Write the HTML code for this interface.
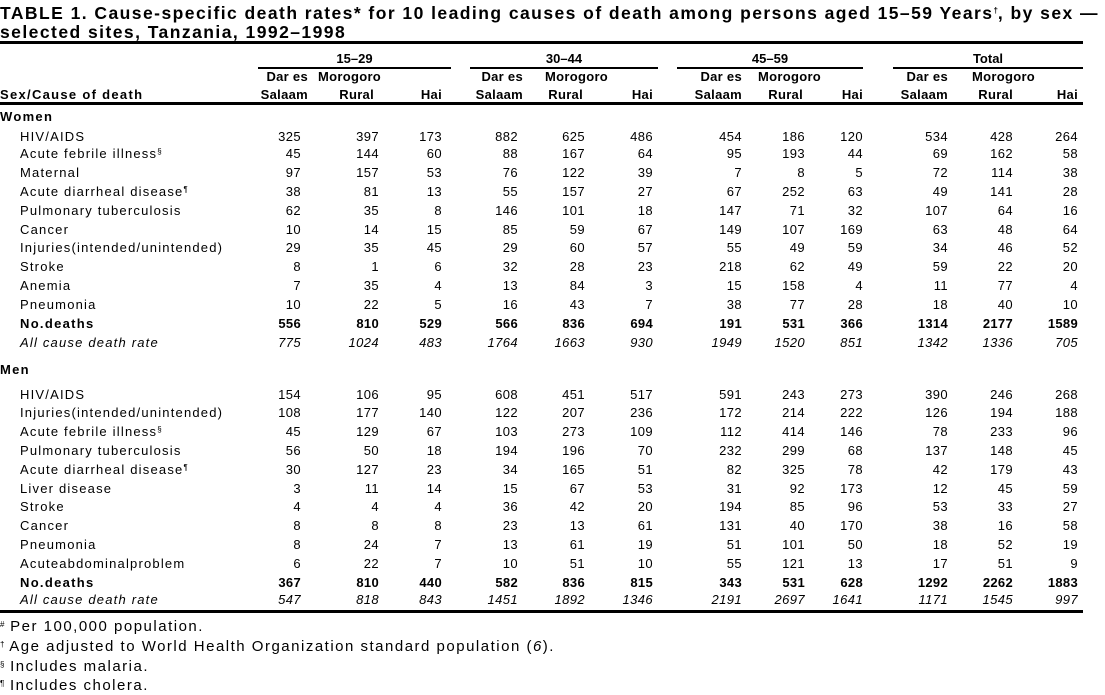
<!DOCTYPE html>
<html><head><meta charset="utf-8"><style>
body{margin:0;width:1105px;height:690px;background:#fff;position:relative;overflow:hidden;font-family:"Liberation Sans",Arial,sans-serif;color:#000}
.t{position:absolute;left:0;font-weight:bold;font-size:17.5px;line-height:18px;letter-spacing:1.45px;white-space:nowrap}
.rule{position:absolute;background:#000}
.r{position:absolute;left:0;width:1105px;height:16px;line-height:16px;font-size:13px;white-space:nowrap;letter-spacing:0.4px}
.r .l{letter-spacing:1.2px}
.r.b .l{letter-spacing:1.3px}
.r.b span{letter-spacing:0.3px}
.r span{position:absolute;width:70px;text-align:right;top:0}
.r .l{left:20px;width:auto;text-align:left}
.b{font-weight:bold}.i{font-style:italic}
.a{left:231px}.bb{left:309px}.c{left:372px}.d{left:448px}.e{left:515px}.f{left:583px}.g{left:672px}.h{left:735px}.k{left:793px}.m{left:878px}.n{left:943px}.o{left:1008px}
.h1{position:absolute;font-size:13px;font-weight:bold;white-space:nowrap;line-height:16px}
.fn{position:absolute;left:0;font-size:15px;white-space:nowrap;line-height:18px;letter-spacing:1.5px}
sup{font-size:8px;vertical-align:top;position:relative;top:-2px;letter-spacing:0}
.hd span{text-align:right}
</style></head><body>
<div class="t" style="top:4px">TABLE 1. Cause-specific death rates* for 10 leading causes of death among persons aged 15–59 Years<sup>†</sup>, by sex —</div>
<div class="t" style="top:23px">selected sites, Tanzania, 1992–1998</div>
<div class="rule" style="left:0;top:41px;width:1083px;height:3px"></div>
<div class="h1" style="left:258px;width:193px;text-align:center;top:51px">15–29</div>
<div class="h1" style="left:470px;width:188px;text-align:center;top:51px">30–44</div>
<div class="h1" style="left:677px;width:186px;text-align:center;top:51px">45–59</div>
<div class="h1" style="left:893px;width:190px;text-align:center;top:51px">Total</div>
<div class="rule" style="left:258px;top:67px;width:193px;height:2px"></div>
<div class="rule" style="left:470px;top:67px;width:188px;height:2px"></div>
<div class="rule" style="left:677px;top:67px;width:186px;height:2px"></div>
<div class="rule" style="left:893px;top:67px;width:190px;height:2px"></div>
<div class="r b hd" style="top:69px"><span style="left:238px">Dar es</span><span style="left:318px;text-align:left">Morogoro</span><span style="left:453px">Dar es</span><span style="left:545px;text-align:left">Morogoro</span><span style="left:672px">Dar es</span><span style="left:758px;text-align:left">Morogoro</span><span style="left:878px">Dar es</span><span style="left:972px;text-align:left">Morogoro</span></div>
<div class="r b hd" style="top:87px"><span class="l" style="left:0">Sex/Cause of death</span><span style="left:238px">Salaam</span><span style="left:304px">Rural</span><span style="left:372px">Hai</span><span style="left:453px">Salaam</span><span style="left:513px">Rural</span><span style="left:583px">Hai</span><span style="left:672px">Salaam</span><span style="left:733px">Rural</span><span style="left:793px">Hai</span><span style="left:878px">Salaam</span><span style="left:943px">Rural</span><span style="left:1008px">Hai</span></div>
<div class="rule" style="left:0;top:102px;width:1083px;height:3px"></div>

<div class="r b" style="top:109px"><span class="l" style="left:0">Women</span></div>
<div class="r" style="top:129px"><span class="l">HIV/AIDS</span><span class="a">325</span><span class="bb">397</span><span class="c">173</span><span class="d">882</span><span class="e">625</span><span class="f">486</span><span class="g">454</span><span class="h">186</span><span class="k">120</span><span class="m">534</span><span class="n">428</span><span class="o">264</span></div>
<div class="r" style="top:146px"><span class="l">Acute febrile illness<sup>§</sup></span><span class="a">45</span><span class="bb">144</span><span class="c">60</span><span class="d">88</span><span class="e">167</span><span class="f">64</span><span class="g">95</span><span class="h">193</span><span class="k">44</span><span class="m">69</span><span class="n">162</span><span class="o">58</span></div>
<div class="r" style="top:165px"><span class="l">Maternal</span><span class="a">97</span><span class="bb">157</span><span class="c">53</span><span class="d">76</span><span class="e">122</span><span class="f">39</span><span class="g">7</span><span class="h">8</span><span class="k">5</span><span class="m">72</span><span class="n">114</span><span class="o">38</span></div>
<div class="r" style="top:184px"><span class="l">Acute diarrheal disease<sup>¶</sup></span><span class="a">38</span><span class="bb">81</span><span class="c">13</span><span class="d">55</span><span class="e">157</span><span class="f">27</span><span class="g">67</span><span class="h">252</span><span class="k">63</span><span class="m">49</span><span class="n">141</span><span class="o">28</span></div>
<div class="r" style="top:203px"><span class="l">Pulmonary tuberculosis</span><span class="a">62</span><span class="bb">35</span><span class="c">8</span><span class="d">146</span><span class="e">101</span><span class="f">18</span><span class="g">147</span><span class="h">71</span><span class="k">32</span><span class="m">107</span><span class="n">64</span><span class="o">16</span></div>
<div class="r" style="top:222px"><span class="l">Cancer</span><span class="a">10</span><span class="bb">14</span><span class="c">15</span><span class="d">85</span><span class="e">59</span><span class="f">67</span><span class="g">149</span><span class="h">107</span><span class="k">169</span><span class="m">63</span><span class="n">48</span><span class="o">64</span></div>
<div class="r" style="top:240px"><span class="l">Injuries(intended/unintended)</span><span class="a">29</span><span class="bb">35</span><span class="c">45</span><span class="d">29</span><span class="e">60</span><span class="f">57</span><span class="g">55</span><span class="h">49</span><span class="k">59</span><span class="m">34</span><span class="n">46</span><span class="o">52</span></div>
<div class="r" style="top:259px"><span class="l">Stroke</span><span class="a">8</span><span class="bb">1</span><span class="c">6</span><span class="d">32</span><span class="e">28</span><span class="f">23</span><span class="g">218</span><span class="h">62</span><span class="k">49</span><span class="m">59</span><span class="n">22</span><span class="o">20</span></div>
<div class="r" style="top:278px"><span class="l">Anemia</span><span class="a">7</span><span class="bb">35</span><span class="c">4</span><span class="d">13</span><span class="e">84</span><span class="f">3</span><span class="g">15</span><span class="h">158</span><span class="k">4</span><span class="m">11</span><span class="n">77</span><span class="o">4</span></div>
<div class="r" style="top:297px"><span class="l">Pneumonia</span><span class="a">10</span><span class="bb">22</span><span class="c">5</span><span class="d">16</span><span class="e">43</span><span class="f">7</span><span class="g">38</span><span class="h">77</span><span class="k">28</span><span class="m">18</span><span class="n">40</span><span class="o">10</span></div>
<div class="r b" style="top:316px"><span class="l">No.deaths</span><span class="a">556</span><span class="bb">810</span><span class="c">529</span><span class="d">566</span><span class="e">836</span><span class="f">694</span><span class="g">191</span><span class="h">531</span><span class="k">366</span><span class="m">1314</span><span class="n">2177</span><span class="o">1589</span></div>
<div class="r i" style="top:335px"><span class="l">All cause death rate</span><span class="a">775</span><span class="bb">1024</span><span class="c">483</span><span class="d">1764</span><span class="e">1663</span><span class="f">930</span><span class="g">1949</span><span class="h">1520</span><span class="k">851</span><span class="m">1342</span><span class="n">1336</span><span class="o">705</span></div>

<div class="r b" style="top:362px"><span class="l" style="left:0">Men</span></div>
<div class="r" style="top:387px"><span class="l">HIV/AIDS</span><span class="a">154</span><span class="bb">106</span><span class="c">95</span><span class="d">608</span><span class="e">451</span><span class="f">517</span><span class="g">591</span><span class="h">243</span><span class="k">273</span><span class="m">390</span><span class="n">246</span><span class="o">268</span></div>
<div class="r" style="top:405px"><span class="l">Injuries(intended/unintended)</span><span class="a">108</span><span class="bb">177</span><span class="c">140</span><span class="d">122</span><span class="e">207</span><span class="f">236</span><span class="g">172</span><span class="h">214</span><span class="k">222</span><span class="m">126</span><span class="n">194</span><span class="o">188</span></div>
<div class="r" style="top:424px"><span class="l">Acute febrile illness<sup>§</sup></span><span class="a">45</span><span class="bb">129</span><span class="c">67</span><span class="d">103</span><span class="e">273</span><span class="f">109</span><span class="g">112</span><span class="h">414</span><span class="k">146</span><span class="m">78</span><span class="n">233</span><span class="o">96</span></div>
<div class="r" style="top:443px"><span class="l">Pulmonary tuberculosis</span><span class="a">56</span><span class="bb">50</span><span class="c">18</span><span class="d">194</span><span class="e">196</span><span class="f">70</span><span class="g">232</span><span class="h">299</span><span class="k">68</span><span class="m">137</span><span class="n">148</span><span class="o">45</span></div>
<div class="r" style="top:462px"><span class="l">Acute diarrheal disease<sup>¶</sup></span><span class="a">30</span><span class="bb">127</span><span class="c">23</span><span class="d">34</span><span class="e">165</span><span class="f">51</span><span class="g">82</span><span class="h">325</span><span class="k">78</span><span class="m">42</span><span class="n">179</span><span class="o">43</span></div>
<div class="r" style="top:481px"><span class="l">Liver disease</span><span class="a">3</span><span class="bb">11</span><span class="c">14</span><span class="d">15</span><span class="e">67</span><span class="f">53</span><span class="g">31</span><span class="h">92</span><span class="k">173</span><span class="m">12</span><span class="n">45</span><span class="o">59</span></div>
<div class="r" style="top:499px"><span class="l">Stroke</span><span class="a">4</span><span class="bb">4</span><span class="c">4</span><span class="d">36</span><span class="e">42</span><span class="f">20</span><span class="g">194</span><span class="h">85</span><span class="k">96</span><span class="m">53</span><span class="n">33</span><span class="o">27</span></div>
<div class="r" style="top:518px"><span class="l">Cancer</span><span class="a">8</span><span class="bb">8</span><span class="c">8</span><span class="d">23</span><span class="e">13</span><span class="f">61</span><span class="g">131</span><span class="h">40</span><span class="k">170</span><span class="m">38</span><span class="n">16</span><span class="o">58</span></div>
<div class="r" style="top:537px"><span class="l">Pneumonia</span><span class="a">8</span><span class="bb">24</span><span class="c">7</span><span class="d">13</span><span class="e">61</span><span class="f">19</span><span class="g">51</span><span class="h">101</span><span class="k">50</span><span class="m">18</span><span class="n">52</span><span class="o">19</span></div>
<div class="r" style="top:556px"><span class="l">Acuteabdominalproblem</span><span class="a">6</span><span class="bb">22</span><span class="c">7</span><span class="d">10</span><span class="e">51</span><span class="f">10</span><span class="g">55</span><span class="h">121</span><span class="k">13</span><span class="m">17</span><span class="n">51</span><span class="o">9</span></div>
<div class="r b" style="top:575px"><span class="l">No.deaths</span><span class="a">367</span><span class="bb">810</span><span class="c">440</span><span class="d">582</span><span class="e">836</span><span class="f">815</span><span class="g">343</span><span class="h">531</span><span class="k">628</span><span class="m">1292</span><span class="n">2262</span><span class="o">1883</span></div>
<div class="r i" style="top:592px"><span class="l">All cause death rate</span><span class="a">547</span><span class="bb">818</span><span class="c">843</span><span class="d">1451</span><span class="e">1892</span><span class="f">1346</span><span class="g">2191</span><span class="h">2697</span><span class="k">1641</span><span class="m">1171</span><span class="n">1545</span><span class="o">997</span></div>
<div class="rule" style="left:0;top:610px;width:1083px;height:3px"></div>

<div class="fn" style="top:618px"><sup>#</sup> Per 100,000 population.</div>
<div class="fn" style="top:638px"><sup>†</sup> Age adjusted to World Health Organization standard population (<i>6</i>).</div>
<div class="fn" style="top:658px"><sup>§</sup> Includes malaria.</div>
<div class="fn" style="top:677px"><sup>¶</sup> Includes cholera.</div>
</body></html>
